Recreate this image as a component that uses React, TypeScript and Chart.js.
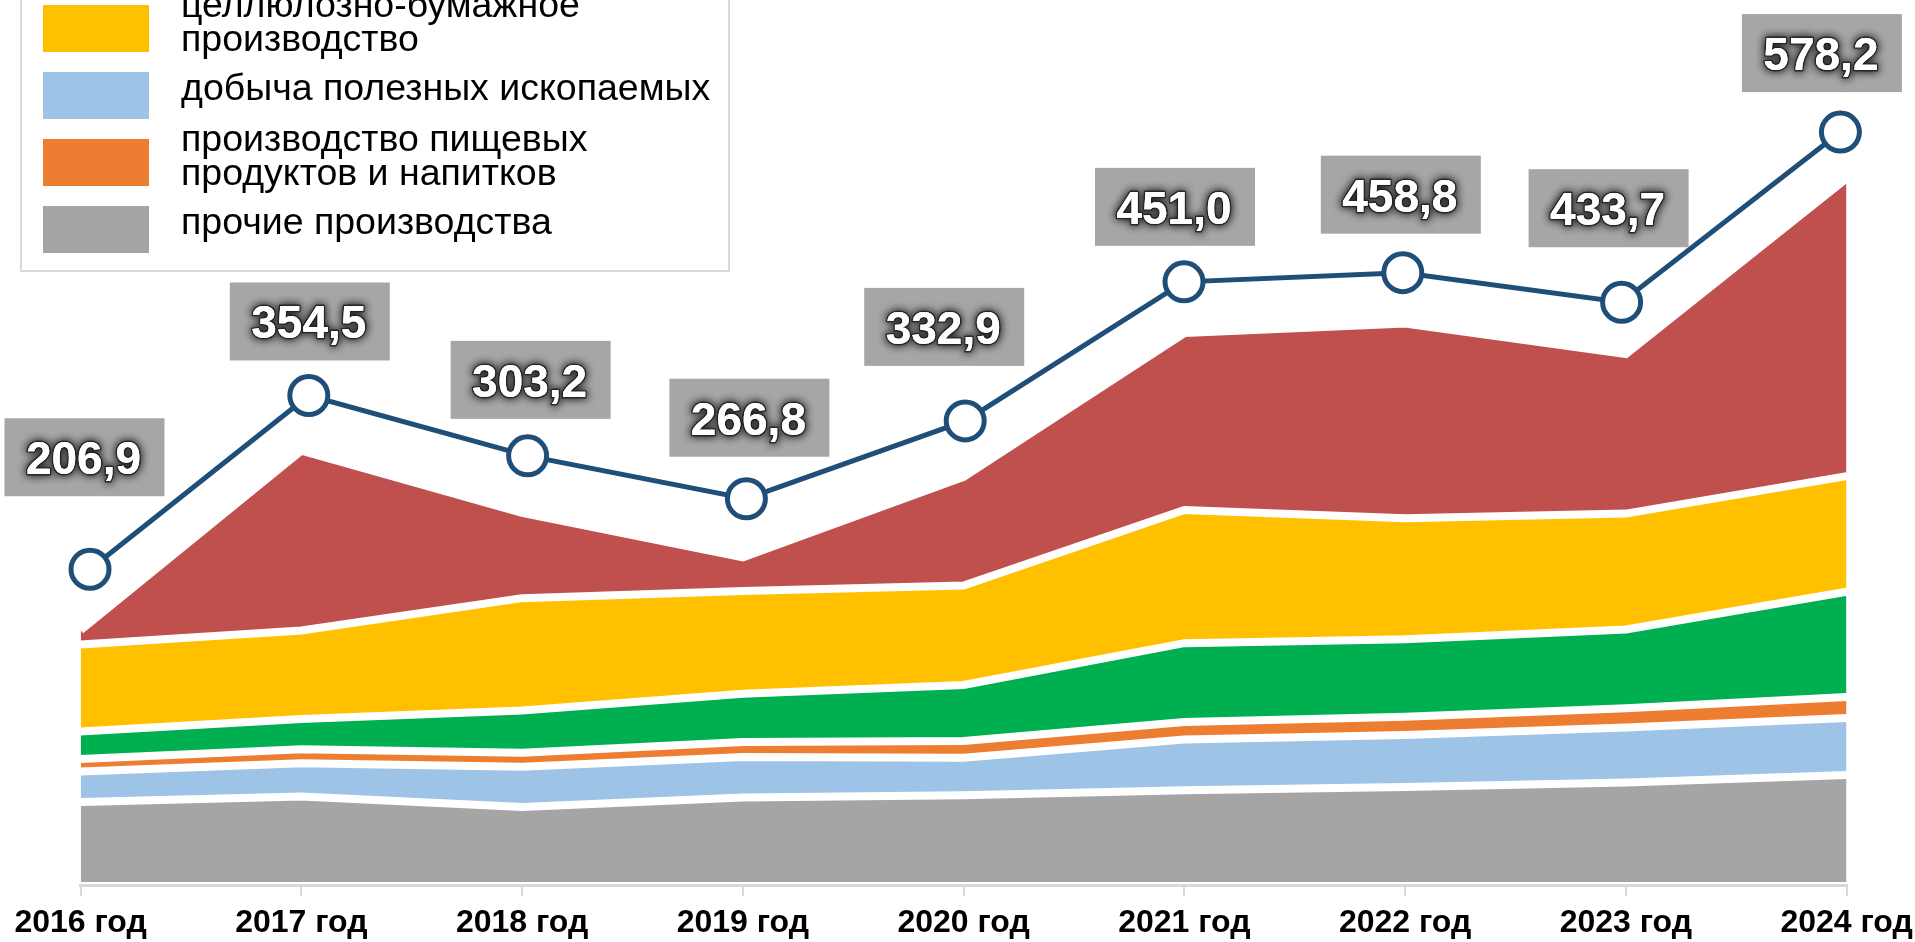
import { useEffect, useRef } from 'react';
import { Chart, registerables } from 'chart.js';

Chart.register(...registerables);

// ---- data ----
const years = ['2016 год', '2017 год', '2018 год', '2019 год', '2020 год', '2021 год', '2022 год', '2023 год', '2024 год'];
const totals = [206.9, 354.5, 303.2, 266.8, 332.9, 451.0, 458.8, 433.7, 578.2];

// stacked layers, bottom to top
const otherProduction = [65.7, 70.3, 61.5, 69.4, 71.2, 75.3, 78.0, 81.8, 87.9];
const mining = [25.0, 27.2, 33.2, 33.2, 30.8, 41.7, 42.8, 45.1, 46.9];
const foodProduction = [10.4, 11.5, 11.4, 12.4, 13.8, 14.4, 14.9, 15.9, 17.1];
const greenLayer = [22.6, 24.9, 34.7, 39.6, 46.1, 64.8, 63.7, 64.6, 86.6];
const pulpPaper = [71.4, 72.8, 92.4, 84.5, 81.6, 109.5, 99.5, 95.3, 95.0];
const redLayer = [11.8, 147.8, 70.0, 27.7, 89.4, 145.3, 159.9, 131.0, 244.7];

const legendEntries = [
  { lines: ['целлюлозно-бумажное', 'производство'], color: '#FFC000' },
  { lines: ['добыча полезных ископаемых'], color: '#9DC3E6' },
  { lines: ['производство пищевых', 'продуктов и напитков'], color: '#ED7D31' },
  { lines: ['прочие производства'], color: '#A5A5A5' },
];

// label box offsets (px) from each total point
const labelOffsets: [number, number][] = [
  [-5.5, -112], [1, -74], [3, -76], [3, -81], [-21, -94], [-9, -75], [-2, -78], [-13, -94], [-18.5, -79],
];

const FONT = '"Liberation Sans", Arial, Helvetica, sans-serif';

const overlayPlugin = {
  id: 'overlay',
  afterDraw(chart: any) {
    const ctx: CanvasRenderingContext2D = chart.ctx;
    const xScale = chart.scales.x;

    // data labels
    const meta = chart.getDatasetMeta(6);
    meta.data.forEach((pt: any, i: number) => {
      const [dx, dy] = labelOffsets[i];
      const cx = pt.x + dx;
      const cy = pt.y + dy;
      ctx.save();
      ctx.fillStyle = '#A6A6A6';
      ctx.fillRect(cx - 80, cy - 39, 160, 78);
      const text = totals[i].toFixed(1).replace('.', ',');
      ctx.font = 'bold 46px ' + FONT;
      ctx.textAlign = 'center';
      ctx.textBaseline = 'alphabetic';
      const by = cy + 17;
      ctx.shadowColor = 'rgba(25,25,25,1)';
      ctx.shadowBlur = 8;
      ctx.lineJoin = 'round';
      ctx.lineWidth = 3;
      ctx.strokeStyle = '#2e2e2e';
      ctx.strokeText(text, cx - 1, by);
      ctx.fillStyle = '#ffffff';
      ctx.fillText(text, cx - 1, by);
      ctx.shadowBlur = 0;
      ctx.shadowColor = 'transparent';
      ctx.fillText(text, cx - 1, by);
      ctx.restore();
    });

    // x tick labels
    ctx.save();
    ctx.font = 'bold 32px ' + FONT;
    ctx.fillStyle = '#000000';
    ctx.textAlign = 'center';
    ctx.textBaseline = 'alphabetic';
    years.forEach((y, i) => {
      ctx.fillText(y, xScale.getPixelForValue(i), 932);
    });
    ctx.restore();

    // legend
    ctx.save();
    ctx.fillStyle = '#ffffff';
    ctx.fillRect(21, -10, 708, 281);
    ctx.strokeStyle = '#D9D9D9';
    ctx.lineWidth = 2;
    ctx.strokeRect(21, -10, 708, 281);
    ctx.font = '37.5px ' + FONT;
    ctx.textAlign = 'left';
    ctx.textBaseline = 'alphabetic';
    legendEntries.forEach((e, i) => {
      const top = 5 + i * 67;
      const center = top + 23.5;
      ctx.fillStyle = e.color;
      ctx.fillRect(43, top, 106, 47);
      ctx.fillStyle = '#000000';
      if (e.lines.length === 1) {
        ctx.fillText(e.lines[0], 181, center + 4);
      } else {
        ctx.fillText(e.lines[0], 181, center - 12);
        ctx.fillText(e.lines[1], 181, center + 22);
      }
    });
    ctx.restore();
  },
};

function area(label: string, data: number[], color: string, fill: any) {
  return {
    type: 'line' as const,
    label,
    data,
    backgroundColor: color,
    borderColor: '#ffffff',
    borderWidth: 8,
    pointRadius: 0,
    pointHoverRadius: 0,
    tension: 0,
    fill,
    xAxisID: 'x',
    yAxisID: 'y',
    order: 1,
  };
}

export default function App() {
  const ref = useRef<HTMLCanvasElement | null>(null);

  useEffect(() => {
    if (!ref.current) return;
    const chart = new Chart(ref.current, {
      type: 'line',
      data: {
        labels: years,
        datasets: [
          area('прочие производства', otherProduction, '#A5A5A5', 'origin'),
          area('добыча полезных ископаемых', mining, '#9DC3E6', '-1'),
          area('производство пищевых продуктов и напитков', foodProduction, '#ED7D31', '-1'),
          area('зелёная категория', greenLayer, '#00B050', '-1'),
          area('целлюлозно-бумажное производство', pulpPaper, '#FFC000', '-1'),
          area('красная категория', redLayer, '#C0504D', '-1'),
          {
            type: 'line' as const,
            label: 'всего',
            data: totals.map((v, i) => ({ x: i, y: v })),
            borderColor: '#1F4E79',
            borderWidth: 5,
            pointRadius: 19,
            pointHoverRadius: 19,
            pointBorderWidth: 5,
            pointBackgroundColor: '#ffffff',
            pointBorderColor: '#1F4E79',
            tension: 0,
            fill: false,
            xAxisID: 'x2',
            yAxisID: 'y2',
            order: 0,
            clip: false,
          } as any,
        ],
      },
      options: {
        responsive: false,
        animation: false,
        events: [],
        layout: { autoPadding: false, padding: { left: 80.6, right: 68.4, top: 0, bottom: 0 } },
        plugins: { legend: { display: false }, tooltip: { enabled: false } },
        scales: {
          x: {
            type: 'category',
            offset: false,
            grid: { display: true, drawOnChartArea: false, drawTicks: true, tickLength: 11, color: '#D9D9D9', lineWidth: 2 },
            border: { display: true, color: '#D9D9D9', width: 3 },
            ticks: { display: false },
            afterFit: (s: any) => { s.height = 57; },
          },
          x2: { type: 'linear', display: false, min: -0.043, max: 8.0283 },
          y: { display: false, stacked: true, min: -2.5, max: 724.7 },
          y2: { display: false, stacked: false, min: -61.3, max: 690.4 },
        },
      } as any,
      plugins: [overlayPlugin],
    });
    return () => chart.destroy();
  }, []);

  return (
    <div style={{ position: 'fixed', left: 0, top: 0, width: 1915, height: 942, background: '#ffffff' }}>
      <canvas ref={ref} width={1915} height={942} style={{ display: 'block' }} />
    </div>
  );
}
